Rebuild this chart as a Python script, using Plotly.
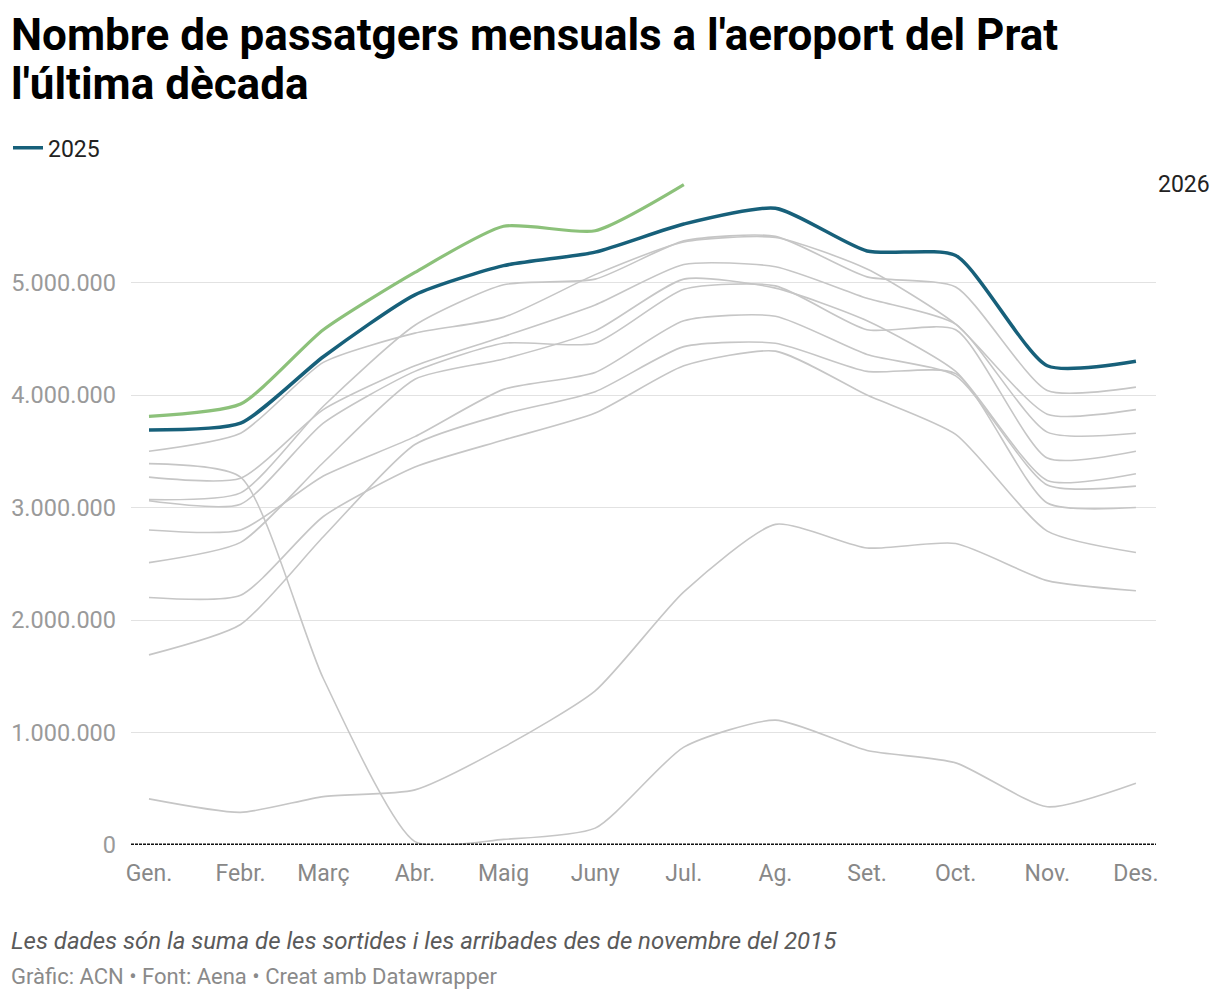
import plotly.graph_objects as go

# Eix X: primer dia de cada mes (any de referència sense traspàs)
mesos = ["2022-01-01", "2022-02-01", "2022-03-01", "2022-04-01", "2022-05-01", "2022-06-01",
         "2022-07-01", "2022-08-01", "2022-09-01", "2022-10-01", "2022-11-01", "2022-12-01"]
etiquetes_mesos = ["Gen.", "Febr.", "Març", "Abr.", "Maig", "Juny",
                   "Jul.", "Ag.", "Set.", "Oct.", "Nov.", "Des."]

# Passatgers mensuals, en milions
p2015 = [2.20, 2.22, 2.92, 3.36, 3.60, 3.84, 4.26, 4.39, 4.00, 3.65, 2.79, 2.60]
p2016 = [2.51, 2.69, 3.40, 4.14, 4.32, 4.57, 5.03, 4.95, 4.66, 4.21, 3.24, 3.30]
p2017 = [3.06, 3.03, 3.75, 4.21, 4.46, 4.46, 4.94, 4.97, 4.58, 4.58, 3.44, 3.50]
p2018 = [3.07, 3.13, 3.90, 4.62, 4.98, 5.03, 5.37, 5.41, 5.05, 4.96, 4.04, 4.07]
p2019 = [3.27, 3.26, 3.87, 4.26, 4.52, 4.80, 5.16, 5.14, 4.86, 4.63, 3.67, 3.66]
p2020 = [3.39, 3.27, 1.48, 0.03, 0.05, 0.15, 0.87, 1.11, 0.84, 0.73, 0.34, 0.55]
p2021 = [0.41, 0.29, 0.43, 0.49, 0.87, 1.37, 2.25, 2.85, 2.64, 2.68, 2.35, 2.26]
p2022 = [1.69, 1.96, 2.74, 3.56, 3.83, 4.03, 4.43, 4.46, 4.21, 4.19, 3.04, 3.00]
p2023 = [2.80, 2.80, 3.28, 3.63, 4.05, 4.20, 4.66, 4.70, 4.36, 4.17, 3.20, 3.19]
p2024 = [3.50, 3.66, 4.29, 4.55, 4.69, 5.07, 5.36, 5.40, 5.12, 4.63, 3.83, 3.87]
p2025 = [3.69, 3.75, 4.34, 4.89, 5.15, 5.27, 5.52, 5.66, 5.28, 5.24, 4.26, 4.30]
p2026 = [3.81, 3.92, 4.58, 5.09, 5.50, 5.46, 5.87]

y_ticks = [0, 1, 2, 3, 4, 5]
y_tick_labels = ["0", "1.000.000", "2.000.000", "3.000.000", "4.000.000", "5.000.000"]

anys_grisos = [("2015", p2015), ("2016", p2016), ("2017", p2017), ("2018", p2018),
               ("2019", p2019), ("2020", p2020), ("2021", p2021), ("2022", p2022),
               ("2023", p2023), ("2024", p2024)]

FONT = "Roboto"
SMOOTH = 0.6

fig = go.Figure()

for nom, valors in anys_grisos:
    fig.add_trace(go.Scatter(
        x=mesos[:len(valors)], y=valors, name=nom, mode="lines",
        line=dict(color="#c6c6c6", width=1.6, shape="spline", smoothing=SMOOTH),
        showlegend=False, hoverinfo="skip"
    ))

fig.add_trace(go.Scatter(
    x=mesos[:len(p2025)], y=p2025, name="2025", mode="lines",
    line=dict(color="#17607a", width=3.5, shape="spline", smoothing=SMOOTH),
    showlegend=True
))

fig.add_trace(go.Scatter(
    x=mesos[:len(p2026)], y=p2026, name="2026", mode="lines",
    line=dict(color="#8cc17a", width=3.2, shape="spline", smoothing=SMOOTH),
    showlegend=False
))

# línia base a zero, discontínua
fig.add_shape(type="line", xref="paper", x0=0, x1=1, yref="y", y0=0, y1=0,
              line=dict(color="#111111", width=3, dash="3px,1px"), layer="above")

# títol, en dues línies
fig.add_annotation(x=-0.119, xref="paper", xanchor="left", y=1.2, yref="paper", yanchor="middle",
                   text="<b>Nombre de passatgers mensuals a l'aeroport del Prat</b>",
                   showarrow=False, font=dict(family=FONT, size=44, color="#000000"))
fig.add_annotation(x=-0.119, xref="paper", xanchor="left", y=1.1267, yref="paper", yanchor="middle",
                   text="<b>l'última dècada</b>",
                   showarrow=False, font=dict(family=FONT, size=44, color="#000000"))

# etiqueta 2026 al final de la línia
fig.add_annotation(x=1, xref="paper", xanchor="left", y=p2026[-1], yref="y",
                   text="2026", showarrow=False, font=dict(family=FONT, size=23, color="#222222"))

fig.add_annotation(x=-0.119, xref="paper", xanchor="left", y=-0.142, yref="paper", yanchor="middle",
                   text="<i>Les dades són la suma de les sortides i les arribades des de novembre del 2015</i>",
                   showarrow=False, font=dict(family=FONT, size=24, color="#5a5a5a"))
fig.add_annotation(x=-0.119, xref="paper", xanchor="left", y=-0.195, yref="paper", yanchor="middle",
                   text="Gràfic: ACN • Font: Aena • Creat amb Datawrapper",
                   showarrow=False, font=dict(family=FONT, size=22, color="#8a8a8a"))

fig.update_layout(
    width=1212, height=992,
    margin=dict(l=123, r=64, t=162, b=155, autoexpand=False),
    paper_bgcolor="white", plot_bgcolor="white",
    font=dict(family=FONT),
    legend=dict(
        orientation="h", x=0.0, xref="container", xanchor="left",
        y=0.859, yref="container", yanchor="middle",
        font=dict(family=FONT, size=23, color="#222222"),
        itemwidth=30, bgcolor="rgba(0,0,0,0)"
    ),
    xaxis=dict(
        type="date",
        range=["2021-12-25 22:00", "2022-12-07 19:00"],
        tickvals=mesos, ticktext=etiquetes_mesos,
        showgrid=False, zeroline=False, showline=False, ticks="",
        tickfont=dict(family=FONT, size=23, color="#888888"),
        ticklabelstandoff=12, automargin=False
    ),
    yaxis=dict(
        range=[0, 6.0],
        tickvals=y_ticks, ticktext=y_tick_labels,
        showgrid=True, gridcolor="#e2e2e2", gridwidth=1,
        zeroline=False, showline=False, ticks="",
        tickfont=dict(family=FONT, size=23.5, color="#9a9a9a"),
        ticklabelstandoff=14, automargin=False
    ),
)

fig.write_html("out.html")
